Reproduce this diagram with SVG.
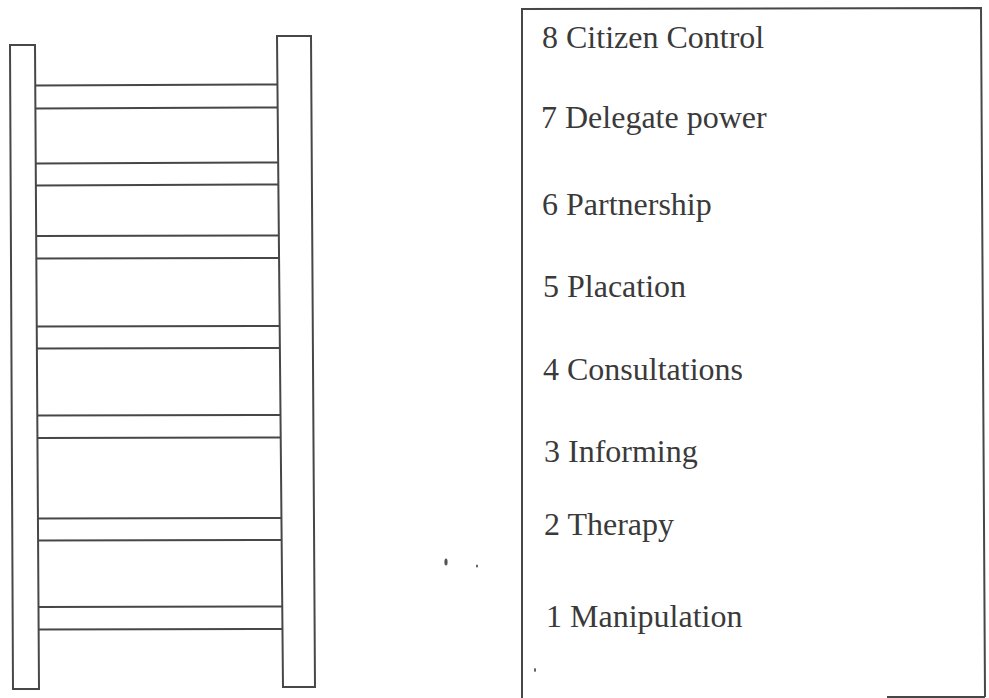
<svg xmlns="http://www.w3.org/2000/svg" width="989" height="698" viewBox="0 0 989 698">
<style>
.ln{fill:none;stroke:#474747;stroke-width:2}
.rung{stroke:#474747;stroke-width:2}
.lbl{font-family:"Liberation Serif","Times New Roman",serif;font-size:32px;fill:#3a3a3a}
</style>
<rect width="989" height="698" fill="#ffffff"/>
<g id="ladder">
<polygon id="rail-left" class="ln" points="10,45 35,45 39,689 13,689"/>
<polygon id="rail-right" class="ln" points="277,36 311,36 315,687 283,687"/>
<g id="rungs">
<line class="rung" x1="35.3" y1="85.5" x2="277.5" y2="84.5"/>
<line class="rung" x1="35.4" y1="108.5" x2="277.7" y2="107.5"/>
<line class="rung" x1="35.7" y1="163.5" x2="278.2" y2="162.5"/>
<line class="rung" x1="35.9" y1="185.5" x2="278.4" y2="184.5"/>
<line class="rung" x1="36.2" y1="236" x2="278.8" y2="235.5"/>
<line class="rung" x1="36.3" y1="258.5" x2="279" y2="258"/>
<line class="rung" x1="36.7" y1="326.5" x2="279.7" y2="326"/>
<line class="rung" x1="36.9" y1="348.5" x2="279.9" y2="348"/>
<line class="rung" x1="37.3" y1="415.5" x2="280.5" y2="415"/>
<line class="rung" x1="37.4" y1="438" x2="280.7" y2="437.5"/>
<line class="rung" x1="37.9" y1="518.5" x2="281.4" y2="518"/>
<line class="rung" x1="38.1" y1="540.5" x2="281.6" y2="540"/>
<line class="rung" x1="38.5" y1="607" x2="282.3" y2="606.5"/>
<line class="rung" x1="38.6" y1="629.5" x2="282.5" y2="629"/>
</g>
</g>
<g id="levels-box">
<path class="ln" d="M522,698 L522,9 L981,8 L985,697"/>
<line class="rung" x1="887" y1="697" x2="985" y2="697"/>
<g id="labels">
<text class="lbl" x="542" y="47.5">8 Citizen Control</text>
<text class="lbl" x="541" y="128">7 Delegate power</text>
<text class="lbl" x="542" y="215">6 Partnership</text>
<text class="lbl" x="543" y="297">5 Placation</text>
<text class="lbl" x="543" y="380">4 Consultations</text>
<text class="lbl" x="544" y="462">3 Informing</text>
<text class="lbl" x="544" y="535">2 Therapy</text>
<text class="lbl" x="546" y="627">1 Manipulation</text>
</g>
</g>
<g id="specks" fill="#555">
<ellipse cx="446" cy="562" rx="1.6" ry="3.5"/>
<ellipse cx="477" cy="566" rx="1" ry="1.6"/>
<ellipse cx="535" cy="670" rx="1" ry="2"/>
</g>
</svg>
